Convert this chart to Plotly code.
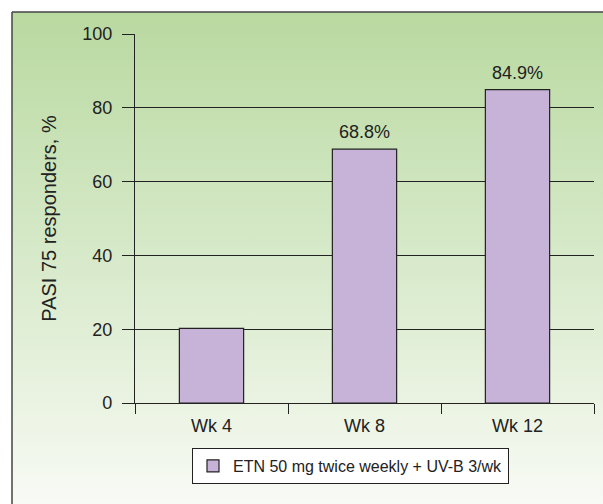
import base64
import plotly.graph_objects as go

# data
weeks = ["Wk 4", "Wk 8", "Wk 12"]
responders = [20.2, 68.8, 84.9]
bar_labels = ["", "68.8%", "84.9%"]
series_name = "ETN 50 mg twice weekly + UV-B 3/wk"
y_ticks = [0, 20, 40, 60, 80, 100]

FONT = "Liberation Sans, Arial, sans-serif"
INK = "#222222"

# plot area in pixels (603x504 canvas)
W, H = 603, 504
L, R, T, B = 135, 9, 34, 101
pw, ph = W - L - R, H - T - B


def px_x(p):
    return (p - L) / pw


def px_y(p):
    return (H - B - p) / ph


# green-to-white background panel as an svg gradient
svg = (
    '<svg xmlns="http://www.w3.org/2000/svg" width="100" height="100" preserveAspectRatio="none">'
    '<defs><linearGradient id="g" x1="0" y1="0" x2="0" y2="1">'
    '<stop offset="0" stop-color="#b9d9a0"/>'
    '<stop offset="0.45" stop-color="#d4e8c6"/>'
    '<stop offset="0.75" stop-color="#e8f2df"/>'
    '<stop offset="1" stop-color="#f9fbf6"/>'
    '</linearGradient></defs>'
    '<rect width="100" height="100" fill="url(#g)"/></svg>'
)
bg_src = "data:image/svg+xml;base64," + base64.b64encode(svg.encode()).decode()

fig = go.Figure()
fig.add_trace(go.Bar(
    x=weeks, y=responders, name=series_name, width=0.42,
    marker=dict(color="#c7b3d7", line=dict(color=INK, width=1.2)),
    showlegend=True,
))

for wk, val, lab in zip(weeks, responders, bar_labels):
    if lab:
        fig.add_annotation(x=wk, y=val, text=lab, showarrow=False,
                           yanchor="bottom", yshift=5,
                           font=dict(family=FONT, size=18, color=INK))

fig.add_layout_image(
    source=bg_src, xref="paper", yref="paper",
    x=px_x(12), y=px_y(12), sizex=px_x(W + 5) - px_x(12), sizey=px_y(12) - px_y(H + 5),
    xanchor="left", yanchor="top", sizing="stretch", layer="below",
)
# frame: only the left and top edges are in view
frame = dict(type="line", xref="paper", yref="paper", layer="below",
             line=dict(color="#444444", width=1.5))
fig.add_shape(x0=px_x(12), x1=px_x(12), y0=px_y(H + 5), y1=px_y(12), **frame)
fig.add_shape(x0=px_x(12), x1=px_x(W + 5), y0=px_y(12), y1=px_y(12), **frame)

fig.update_layout(
    width=W, height=H,
    margin=dict(l=L, r=R, t=T, b=B, autoexpand=False),
    paper_bgcolor="white", plot_bgcolor="rgba(0,0,0,0)",
    font=dict(family=FONT, size=18, color=INK),
    legend=dict(
        x=px_x(192), y=px_y(448), xanchor="left", yanchor="top",
        bgcolor="white", bordercolor=INK, borderwidth=1,
        font=dict(family=FONT, size=16, color=INK),
        orientation="h",
    ),
    xaxis=dict(
        range=[-0.5, 2.5], showgrid=False, showline=True, linecolor=INK, linewidth=1.2,
        ticks="outside", tickson="boundaries", ticklen=10, tickcolor=INK, tickwidth=1.2,
        ticklabelstandoff=6, tickfont=dict(size=18), automargin=False,
    ),
    yaxis=dict(
        range=[0, 100], tickvals=y_ticks, showgrid=True, gridcolor=INK, gridwidth=1.2,
        showline=True, linecolor=INK, linewidth=1.2, zeroline=False,
        ticks="outside", ticklen=12, tickcolor=INK, tickwidth=1.2,
        ticklabelstandoff=6, automargin=False,
        title=dict(text="PASI 75 responders, %", font=dict(size=20), standoff=20),
        tickfont=dict(size=18),
    ),
)

page_fix = (
    "document.documentElement.style.overflow='hidden';"
    "document.body.style.overflow='hidden';"
    "document.body.style.margin='0';"
)
fig.write_html("out.html", config={"displayModeBar": False}, post_script=page_fix)
